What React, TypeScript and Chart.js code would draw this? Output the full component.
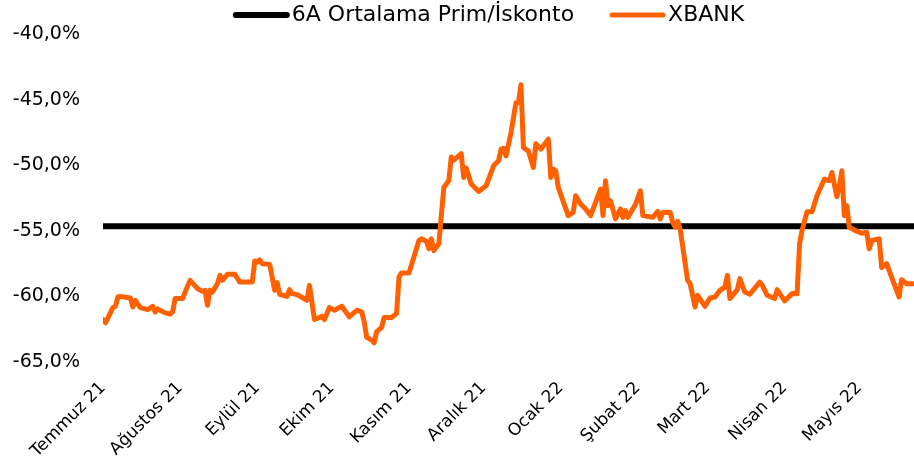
import React, { useEffect, useRef } from 'react';
import { Chart, registerables } from 'chart.js';

Chart.register(...registerables);

// Month ticks: days since 1 July 2021
const monthDays = [0, 31, 62, 92, 123, 153, 184, 215, 243, 274, 304];
const monthLabels = [
  'Temmuz 21', 'Ağustos 21', 'Eylül 21', 'Ekim 21', 'Kasım 21', 'Aralık 21',
  'Ocak 22', 'Şubat 22', 'Mart 22', 'Nisan 22', 'Mayıs 22',
];

const axisStartDay = 0;
const axisEndDay = 326;

// XBANK premium/discount (%) observations, days since 1 July 2021
const dayOffsets = [
  0, 1, 4, 5, 6, 7, 11, 12, 13, 15, 18, 20, 21, 22, 25, 27, 28, 29, 32, 33,
  35, 38, 40, 41, 42, 43, 44, 46, 47, 48, 50, 53, 55, 60, 61, 62, 63, 64, 67, 69,
  70, 71, 74, 75, 76, 78, 82, 83, 85, 87, 88, 89, 91, 93, 96, 99, 102, 104, 105, 106,
  108, 109, 110, 112, 113, 116, 118, 119, 120, 123, 127, 128, 130, 131, 132, 133, 135, 137, 139, 140,
  141, 144, 145, 146, 148, 151, 154, 157, 159, 160, 161, 162, 164, 166, 167, 168, 169, 171, 173, 174,
  176, 179, 180, 181, 182, 183, 187, 189, 190, 192, 194, 196, 200, 201, 202, 203, 204, 206, 208, 209,
  210, 211, 214, 216, 217, 221, 223, 224, 225, 228, 229, 230, 231, 232, 235, 236, 238, 239, 242, 244,
  246, 248, 250, 251, 252, 255, 256, 258, 260, 264, 265, 267, 270, 271, 274, 277, 279, 280, 281, 283,
  285, 287, 290, 292, 293, 295, 296, 297, 298, 299, 300, 303, 305, 307, 308, 309, 312, 313, 315, 317,
  320, 321, 323, 326,
];
const xbankValues = [
  -61.76, -62.01, -60.85, -60.75, -60.04, -59.99, -60.11, -60.8, -60.29, -60.85, -61.0, -60.75, -61.18, -60.95, -61.25, -61.35, -61.18, -60.16, -60.16, -59.66,
  -58.77, -59.4, -59.6, -59.53, -60.67, -59.53, -59.66, -59.02, -58.39, -58.77, -58.31, -58.31, -58.9, -58.9, -57.3, -57.38, -57.2, -57.5, -57.55, -59.53,
  -58.94, -59.83, -59.99, -59.48, -59.78, -59.86, -60.29, -59.15, -61.76, -61.6, -61.5, -61.76, -60.85, -61.05, -60.75, -61.56, -61.05, -61.18, -61.94, -63.12,
  -63.33, -63.53, -62.7, -62.36, -61.6, -61.6, -61.3, -58.5, -58.2, -58.21, -55.73, -55.6, -55.78, -56.36, -55.6, -56.5, -55.98, -51.68, -51.17, -49.35,
  -49.6, -49.1, -50.92, -50.2, -51.42, -51.98, -51.55, -50.03, -49.65, -48.76, -48.7, -49.27, -47.5, -45.22, -45.22, -43.85, -48.64, -48.89, -50.16, -48.34,
  -48.76, -48.0, -50.92, -50.28, -50.41, -51.68, -53.83, -53.58, -52.31, -52.94, -53.32, -53.83, -51.8, -53.83, -51.17, -53.07, -52.69, -54.08, -53.32, -53.96,
  -53.45, -53.96, -52.99, -51.93, -53.83, -53.96, -53.5, -54.08, -53.6, -53.58, -54.34, -54.7, -54.26, -54.84, -58.77, -59.02, -60.8, -59.91, -60.75, -60.11,
  -60.04, -59.53, -59.28, -58.39, -60.16, -59.48, -58.64, -59.66, -59.83, -58.9, -59.15, -59.91, -60.16, -59.48, -60.34, -59.78, -59.8, -55.98, -54.97, -53.53,
  -53.53, -52.31, -51.04, -51.17, -50.54, -52.39, -51.55, -50.41, -53.83, -53.07, -54.72, -55.02, -55.17, -55.1, -56.36, -55.73, -55.6, -57.8, -57.5, -58.52,
  -60.04, -58.72, -59.02, -59.02,
];

// 6-month average premium/discount (%)
const averageLevel = -54.65;

const yMin = -65;
const yMax = -40;
const yStep = 5;

const FONT = "'DejaVu Sans', sans-serif";

// Legend drawn in the reference's style: line sample, text right after it, items centred
const lineLegendPlugin = {
  id: 'lineLegend',
  afterDraw(chart: any) {
    const ctx = chart.ctx as CanvasRenderingContext2D;
    const datasets = [...chart.data.datasets].reverse();
    const sampleLen = 55;
    const textGap = 3;
    const itemGap = 36;
    const centerX = 489;
    const centerY = 15;
    ctx.save();
    ctx.font = `22px ${FONT}`;
    const widths = datasets.map((ds: any) => ctx.measureText(ds.label).width);
    const total =
      widths.reduce((s: number, w: number) => s + w + sampleLen + textGap, 0) +
      itemGap * (datasets.length - 1);
    let x = centerX - total / 2;
    datasets.forEach((ds: any, i: number) => {
      ctx.beginPath();
      ctx.strokeStyle = ds.borderColor;
      ctx.lineWidth = ds.borderWidth;
      ctx.lineCap = 'round';
      ctx.moveTo(x + 2, centerY);
      ctx.lineTo(x + sampleLen - 2, centerY);
      ctx.stroke();
      x += sampleLen + textGap;
      ctx.fillStyle = '#000';
      ctx.textAlign = 'left';
      ctx.textBaseline = 'middle';
      ctx.fillText(ds.label, x, centerY);
      x += widths[i] + itemGap;
    });
    ctx.restore();
  },
};

export default function App() {
  const canvasRef = useRef<HTMLCanvasElement>(null);

  useEffect(() => {
    if (!canvasRef.current) return;
    const chart = new Chart(canvasRef.current, {
      type: 'line',
      data: {
        datasets: [
          {
            label: 'XBANK',
            data: dayOffsets.map((d, i) => ({ x: d, y: xbankValues[i] })),
            borderColor: '#FF6100',
            backgroundColor: '#FF6100',
            borderWidth: 5,
            pointRadius: 0,
            tension: 0,
            borderJoinStyle: 'round',
            borderCapStyle: 'round',
          },
          {
            label: '6A Ortalama Prim/İskonto',
            data: [
              { x: axisStartDay, y: averageLevel },
              { x: axisEndDay, y: averageLevel },
            ],
            borderColor: '#000000',
            backgroundColor: '#000000',
            borderWidth: 6,
            pointRadius: 0,
          },
        ],
      },
      options: {
        animation: false,
        responsive: true,
        maintainAspectRatio: false,
        layout: { padding: { top: 33, left: 0, right: 0, bottom: 0 } },
        plugins: {
          tooltip: { enabled: false },
          legend: { display: false },
        },
        scales: {
          x: {
            type: 'linear',
            min: axisStartDay,
            max: axisEndDay,
            afterBuildTicks: (axis: any) => {
              axis.ticks = monthDays.map((v) => ({ value: v }));
            },
            afterFit: (axis: any) => {
              axis.height = 106;
            },
            ticks: {
              autoSkip: false,
              minRotation: 45,
              maxRotation: 45,
              padding: 16,
              color: '#000',
              font: { family: FONT, size: 17 },
              callback: (_v: any, i: number) => monthLabels[i] ?? '',
            },
            grid: { display: false, drawTicks: false },
            border: { display: false },
          },
          y: {
            min: yMin,
            max: yMax,
            afterFit: (axis: any) => {
              axis.width = 103;
            },
            ticks: {
              stepSize: yStep,
              padding: 23,
              color: '#000',
              font: { family: FONT, size: 19 },
              callback: (v: any) => `${Number(v).toFixed(1).replace('.', ',')}%`,
            },
            grid: { display: false, drawTicks: false },
            border: { display: false },
          },
        },
      },
      plugins: [lineLegendPlugin],
    });
    return () => chart.destroy();
  }, []);

  return (
    <div style={{ position: 'absolute', left: 0, top: 0, width: 914, height: 468 }}>
      <canvas ref={canvasRef} />
    </div>
  );
}
